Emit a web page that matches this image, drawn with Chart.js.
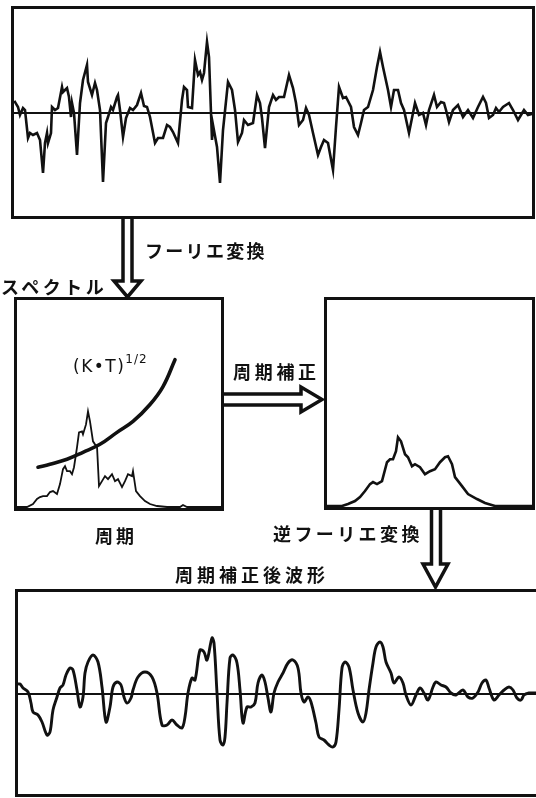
<!DOCTYPE html>
<html><head><meta charset="utf-8">
<script src="https://cdn.jsdelivr.net/npm/chart.js@4/dist/chart.umd.min.js"></script>
<style>
html,body{margin:0;padding:0;background:#fff;}
body{width:536px;height:798px;overflow:hidden;position:relative;font-family:"Noto Sans CJK JP","Noto Sans",sans-serif;color:#111;}
.box{position:absolute;border:3px solid #111;box-sizing:content-box;}
.box canvas{display:block;}
.lbl{position:absolute;font-size:18px;line-height:18px;white-space:nowrap;font-weight:600;}
#kt{position:absolute;left:73px;top:352px;font-family:"DejaVu Sans",sans-serif;font-size:17px;line-height:18px;letter-spacing:1.5px;}
#kt sup{font-size:12px;position:relative;top:-2px;letter-spacing:1px;}
svg{position:absolute;left:0;top:0;}
</style></head>
<body>
<div class="box" id="boxTop" style="left:11px;top:6px;width:518px;height:207px;"><canvas id="cTop" width="518" height="207"></canvas></div>
<div class="box" id="boxL" style="left:14px;top:297px;width:204px;height:208px;"><canvas id="cL" width="204" height="208"></canvas></div>
<div class="box" id="boxR" style="left:324px;top:297px;width:205px;height:207px;"><canvas id="cR" width="205" height="207"></canvas></div>
<div class="box" id="boxB" style="left:15px;top:589px;width:520px;height:202px;"><canvas id="cB" width="520" height="202"></canvas></div>

<svg width="536" height="798" viewBox="0 0 536 798">
  <path d="M123,219 V281 H114 L127.5,297 L141,281 H132 V219" fill="#fff" stroke="#111" stroke-width="3.5" stroke-linejoin="miter"/>
  <path d="M224,394 H301 V387 L322,399.5 L301,412 V405 H224" fill="#fff" stroke="#111" stroke-width="3.5" stroke-linejoin="miter"/>
  <path d="M431.5,510 V564 H423 L435.5,587 L448,564 H440.5 V510" fill="#fff" stroke="#111" stroke-width="3.5" stroke-linejoin="miter"/>
</svg>

<div class="lbl" style="left:145px;top:241px;letter-spacing:2.3px;">フーリエ変換</div>
<div class="lbl" style="left:1px;top:277px;letter-spacing:3.5px;">スペクトル</div>
<div class="lbl" style="left:233px;top:362px;letter-spacing:3.7px;">周期補正</div>
<div class="lbl" style="left:95px;top:526px;letter-spacing:3px;">周期</div>
<div class="lbl" style="left:273px;top:524px;letter-spacing:3.4px;">逆フーリエ変換</div>
<div class="lbl" style="left:175px;top:565px;letter-spacing:4px;">周期補正後波形</div>
<div id="kt">(K•T)<sup>1/2</sup></div>

<script>
// Original record (time index, amplitude)
const topTime = [0,1,4,6,9,11,14,16,19,23,26,29,31,33,34,37,38,41,44,48,49,53,55,57,58,60,63,66,69,73,74,78,81,83,86,89,92,94,97,99,103,104,106,109,112,116,119,123,127,130,133,136,141,144,149,153,156,159,164,168,170,173,174,178,181,184,186,188,190,193,195,197,198,199,203,206,209,214,218,221,224,228,230,234,239,243,246,248,251,255,259,262,265,270,275,279,282,285,289,292,295,299,304,307,310,314,319,322,325,329,332,337,340,344,347,350,354,359,363,366,369,374,377,380,384,387,390,395,399,401,405,409,412,415,420,423,427,430,432,435,439,444,449,454,459,464,469,472,475,479,482,485,489,495,499,504,507,510,514,518];
const topAmp  = [10,11,6,-2,5,3,-25,-20,-22,-20,-27,-60,-30,-20,-30,-20,6,3,5,26,21,25,16,-4,10,0,-42,10,33,48,31,18,30,23,3,-69,-10,-4,6,3,16,18,3,-24,-5,5,3,8,20,7,6,-4,-30,-25,-25,-12,-14,-19,-30,13,26,23,6,5,53,38,41,33,40,71,56,0,-27,-12,-34,-70,-17,31,23,3,-29,-20,-7,-12,-10,18,10,-5,-35,6,18,13,16,16,38,25,10,-12,-7,5,-2,-20,-42,-34,-27,-30,-57,-14,26,15,16,6,-14,-22,-10,3,6,23,46,61,46,23,6,23,23,10,3,-20,0,10,-2,0,-12,3,18,6,11,10,3,-9,3,8,-4,3,-5,6,16,10,-5,-2,5,1,6,10,3,-7,-2,3,-2,-1];

// Spectrum (period, amplitude) and (K*T)^1/2 curve
const specPeriod = [0,10,16,20,23,26,30,33,36,40,43,46,48,50,53,55,57,60,62,65,66,69,71,73,76,78,80,82,85,88,91,95,98,101,105,108,111,115,116,119,123,128,133,140,150,163,166,170,204];
const specAmp    = [0,0,3,8,10,11,11,15,16,13,23,38,41,36,36,33,40,60,75,76,73,83,96,86,66,63,61,21,26,31,28,33,26,28,20,26,33,31,36,16,11,6,3,1,0,0,2,0,0];
const ktPeriod = [21,33,50,66,83,100,116,133,146,158];
const ktValue  = [40,43,48,55,63,75,86,103,121,148];

// Period-corrected spectrum
const corrPeriod = [0,5,15,21,28,33,38,43,46,50,55,60,63,66,69,71,74,78,81,85,88,93,98,103,108,113,118,121,125,128,135,141,150,158,168,178,205];
const corrAmp    = [0,0,0,2,5,9,15,22,24,22,25,44,47,47,55,69,65,52,49,40,42,39,32,35,37,44,49,50,42,29,20,12,7,3,0,0,0];

// Corrected waveform
const botTime = [0,2,5,10,13,15,20,24,29,32,35,39,42,45,48,52,55,59,62,65,67,70,75,80,84,88,92,95,99,103,106,109,113,115,120,127,134,139,144,149,154,159,164,167,170,174,177,182,186,189,194,196,199,202,205,207,209,212,215,219,222,225,229,233,237,240,244,247,250,253,256,260,265,270,275,280,283,286,290,293,298,301,306,311,315,318,321,324,327,331,335,340,345,348,351,355,358,362,365,368,373,376,381,385,388,393,398,402,406,410,415,418,423,428,433,438,445,450,455,460,464,468,471,476,481,486,491,495,499,503,506,511,516,520];
const botAmp  = [10,10,6,2,-9,-18,-21,-28,-41,-38,-16,-3,6,9,19,26,24,4,-13,-3,21,32,39,32,7,-28,-13,7,12,9,-3,-9,-4,4,17,22,17,1,-31,-31,-26,-31,-34,-23,1,16,14,44,42,34,56,51,1,-46,-51,-43,-9,36,39,31,4,-29,-13,-13,-9,11,19,12,-4,-18,1,12,21,31,34,26,1,-8,-3,-8,-29,-43,-46,-51,-53,-48,-16,26,32,27,4,-19,-28,-19,4,31,47,52,47,32,21,11,17,11,-1,-11,-1,6,1,-6,7,12,9,7,1,-1,4,-3,-4,2,11,14,6,-6,-1,4,7,4,-4,-6,-1,1,1,1];

const ink = '#111';
const pts = (xs, ys) => xs.map((x, i) => ({x, y: ys[i]}));

function hiddenAxisX(min, max){
  return {type:'linear', min, max, display:false};
}
function zeroLineY(min, max){
  return {
    type:'linear', min, max, display:true,
    afterFit: s => { s.width = 0; },
    afterBuildTicks: s => { s.ticks = [{value:0}]; },
    ticks:{display:false},
    border:{display:false},
    grid:{drawTicks:false, color: c => (c.tick && c.tick.value === 0) ? ink : 'rgba(0,0,0,0)', lineWidth:2}
  };
}
function hiddenY(min, max){
  return {type:'linear', min, max, display:false};
}
const common = {
  responsive:false, animation:false, devicePixelRatio:1,
  layout:{padding:0},
  plugins:{legend:{display:false}, tooltip:{enabled:false}},
  elements:{point:{radius:0}}
};

new Chart(document.getElementById('cTop'), {
  type:'line',
  data:{datasets:[{data:pts(topTime, topAmp), borderColor:ink, borderWidth:2.6, tension:0, fill:false}]},
  options:{...common, scales:{x:hiddenAxisX(0,518), y:zeroLineY(-103,104)}}
});

new Chart(document.getElementById('cL'), {
  type:'line',
  data:{datasets:[
    {data:pts(specPeriod, specAmp), borderColor:ink, borderWidth:1.8, tension:0, fill:false},
    {data:pts(ktPeriod, ktValue), borderColor:ink, borderWidth:3.6, tension:0.4, fill:false, borderCapStyle:'round'}
  ]},
  options:{...common, scales:{x:hiddenAxisX(0,204), y:hiddenY(-1,208)}}
});

new Chart(document.getElementById('cR'), {
  type:'line',
  data:{datasets:[{data:pts(corrPeriod, corrAmp), borderColor:ink, borderWidth:2.6, tension:0, fill:false}]},
  options:{...common, scales:{x:hiddenAxisX(0,205), y:hiddenY(-1,207)}}
});

new Chart(document.getElementById('cB'), {
  type:'line',
  data:{datasets:[{data:pts(botTime, botAmp), borderColor:ink, borderWidth:2.9, tension:0.35, fill:false}]},
  options:{...common, scales:{x:hiddenAxisX(0,520), y:zeroLineY(-100,102)}}
});
</script>
</body></html>
